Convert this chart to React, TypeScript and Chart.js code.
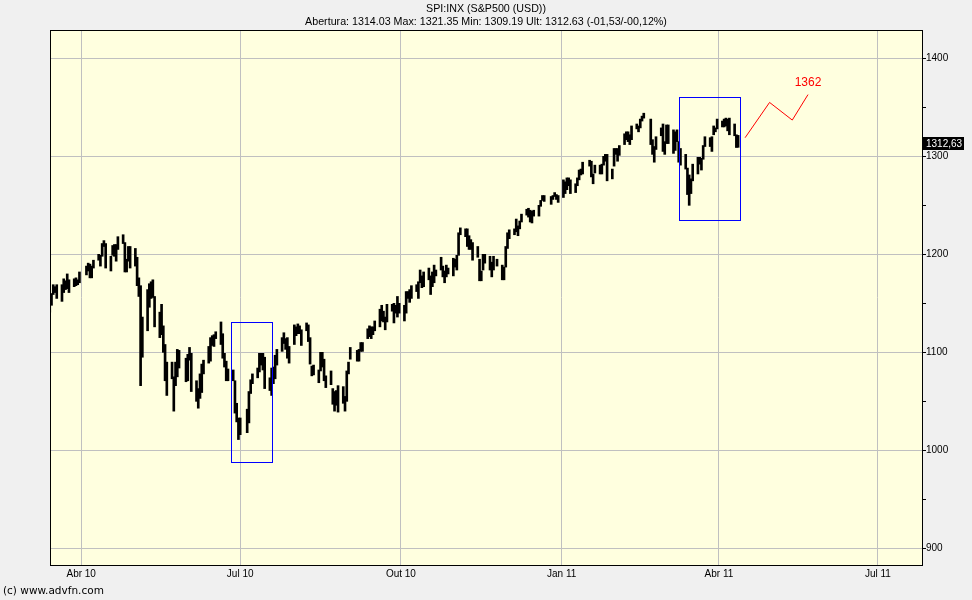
import React, { useEffect, useRef } from "react";
import { Chart, registerables } from "chart.js";

Chart.register(...registerables);

// ---- Daily OHLC, S&P 500 (SPI:INX) ----
const dates: string[] = [
  // Mar 2010
  "2010-03-15","2010-03-16","2010-03-17","2010-03-18","2010-03-19","2010-03-22","2010-03-23","2010-03-24","2010-03-25","2010-03-26","2010-03-29","2010-03-30","2010-03-31",
  // Apr 2010
  "2010-04-01","2010-04-05","2010-04-06","2010-04-07","2010-04-08","2010-04-09","2010-04-12","2010-04-13","2010-04-14","2010-04-15","2010-04-16","2010-04-19","2010-04-20","2010-04-21","2010-04-22","2010-04-23","2010-04-26","2010-04-27","2010-04-28","2010-04-29","2010-04-30",
  // May 2010
  "2010-05-03","2010-05-04","2010-05-05","2010-05-06","2010-05-07","2010-05-10","2010-05-11","2010-05-12","2010-05-13","2010-05-14","2010-05-17","2010-05-18","2010-05-19","2010-05-20","2010-05-21","2010-05-24","2010-05-25","2010-05-26","2010-05-27","2010-05-28",
  // Jun 2010
  "2010-06-01","2010-06-02","2010-06-03","2010-06-04","2010-06-07","2010-06-08","2010-06-09","2010-06-10","2010-06-11","2010-06-14","2010-06-15","2010-06-16","2010-06-17","2010-06-18","2010-06-21","2010-06-22","2010-06-23","2010-06-24","2010-06-25","2010-06-28","2010-06-29","2010-06-30",
  // Jul 2010
  "2010-07-01","2010-07-02","2010-07-06","2010-07-07","2010-07-08","2010-07-09","2010-07-12","2010-07-13","2010-07-14","2010-07-15","2010-07-16","2010-07-19","2010-07-20","2010-07-21","2010-07-22","2010-07-23","2010-07-26","2010-07-27","2010-07-28","2010-07-29","2010-07-30",
  // Aug 2010
  "2010-08-02","2010-08-03","2010-08-04","2010-08-05","2010-08-06","2010-08-09","2010-08-10","2010-08-11","2010-08-12","2010-08-13","2010-08-16","2010-08-17","2010-08-18","2010-08-19","2010-08-20","2010-08-23","2010-08-24","2010-08-25","2010-08-26","2010-08-27","2010-08-30","2010-08-31",
  // Sep 2010
  "2010-09-01","2010-09-02","2010-09-03","2010-09-07","2010-09-08","2010-09-09","2010-09-10","2010-09-13","2010-09-14","2010-09-15","2010-09-16","2010-09-17","2010-09-20","2010-09-21","2010-09-22","2010-09-23","2010-09-24","2010-09-27","2010-09-28","2010-09-29","2010-09-30",
  // Oct 2010
  "2010-10-01","2010-10-04","2010-10-05","2010-10-06","2010-10-07","2010-10-08","2010-10-11","2010-10-12","2010-10-13","2010-10-14","2010-10-15","2010-10-18","2010-10-19","2010-10-20","2010-10-21","2010-10-22","2010-10-25","2010-10-26","2010-10-27","2010-10-28","2010-10-29",
  // Nov 2010
  "2010-11-01","2010-11-02","2010-11-03","2010-11-04","2010-11-05","2010-11-08","2010-11-09","2010-11-10","2010-11-11","2010-11-12","2010-11-15","2010-11-16","2010-11-17","2010-11-18","2010-11-19","2010-11-22","2010-11-23","2010-11-24","2010-11-26","2010-11-29","2010-11-30",
  // Dec 2010
  "2010-12-01","2010-12-02","2010-12-03","2010-12-06","2010-12-07","2010-12-08","2010-12-09","2010-12-10","2010-12-13","2010-12-14","2010-12-15","2010-12-16","2010-12-17","2010-12-20","2010-12-21","2010-12-22","2010-12-23","2010-12-27","2010-12-28","2010-12-29","2010-12-30","2010-12-31",
  // Jan 2011
  "2011-01-03","2011-01-04","2011-01-05","2011-01-06","2011-01-07","2011-01-10","2011-01-11","2011-01-12","2011-01-13","2011-01-14","2011-01-18","2011-01-19","2011-01-20","2011-01-21","2011-01-24","2011-01-25","2011-01-26","2011-01-27","2011-01-28","2011-01-31",
  // Feb 2011
  "2011-02-01","2011-02-02","2011-02-03","2011-02-04","2011-02-07","2011-02-08","2011-02-09","2011-02-10","2011-02-11","2011-02-14","2011-02-15","2011-02-16","2011-02-17","2011-02-18","2011-02-22","2011-02-23","2011-02-24","2011-02-25","2011-02-28",
  // Mar 2011
  "2011-03-01","2011-03-02","2011-03-03","2011-03-04","2011-03-07","2011-03-08","2011-03-09","2011-03-10","2011-03-11","2011-03-14","2011-03-15","2011-03-16","2011-03-17","2011-03-18","2011-03-21","2011-03-22","2011-03-23","2011-03-24","2011-03-25","2011-03-28","2011-03-29","2011-03-30","2011-03-31",
  // Apr 2011
  "2011-04-01","2011-04-04","2011-04-05","2011-04-06","2011-04-07","2011-04-08","2011-04-11","2011-04-12","2011-04-13",
];

const opens: number[] = [
  1148,1150,1160,1166,1166,1158,1166,1172,1168,1167,1168,1173,1172,
  1171,1179,1187,1189,1181,1187,1194,1196,1198,1210,1210,1192,1199,1207,1202,1207,1218,1209,1185,1193,1207,
  1188,1197,1170,1164,1127,1122,1156,1156,1170,1157,1136,1139,1119,1108,1067,1084,1068,1075,1075,1102,
  1087,1074,1098,1099,1066,1051,1063,1059,1083,1095,1091,1114,1116,1117,1122,1113,1096,1091,1074,1077,1071,1040,
  1031,1028,1029,1029,1062,1070,1078,1080,1094,1094,1094,1066,1065,1084,1073,1093,1103,1118,1112,1108,1099,
  1108,1125,1121,1124,1123,1122,1122,1115,1082,1082,1077,1081,1093,1093,1075,1073,1063,1048,1056,1049,1063,1046,
  1050,1080,1093,1102,1092,1101,1104,1114,1121,1119,1123,1127,1126,1143,1139,1131,1131,1149,1143,1147,1146,
  1143,1144,1140,1160,1162,1157,1165,1164,1172,1177,1180,1177,1178,1167,1180,1180,1185,1184,1183,1184,1183,
  1186,1187,1194,1199,1221,1224,1224,1214,1212,1210,1200,1195,1178,1184,1196,1198,1192,1184,1194,1189,1183,
  1187,1206,1220,1224,1227,1225,1230,1233,1242,1241,1241,1236,1243,1246,1249,1255,1257,1255,1259,1259,1260,1257,
  1258,1273,1268,1276,1275,1270,1272,1276,1285,1283,1293,1295,1280,1283,1283,1289,1292,1297,1300,1277,
  1290,1307,1303,1307,1312,1319,1323,1318,1318,1329,1331,1329,1336,1341,1338,1315,1307,1307,1321,
  1329,1305,1313,1331,1322,1311,1320,1315,1293,1301,1288,1279,1262,1277,1282,1298,1292,1300,1311,1315,1309,1322,1327,
  1329,1333,1332,1336,1334,1336,1330,1321,1314.03,
];

const highs: number[] = [
  1151,1160,1169,1167,1169,1169,1175,1173,1180,1174,1175,1176,1174,
  1182,1188,1191,1190,1188,1194,1200,1199,1211,1214,1211,1198,1209,1210,1210,1218,1220,1212,1195,1208,1208,
  1206,1197,1176,1168,1136,1164,1170,1172,1174,1157,1141,1149,1127,1108,1090,1090,1075,1090,1103,1102,
  1094,1098,1105,1099,1071,1063,1078,1088,1092,1106,1115,1117,1118,1121,1131,1119,1099,1091,1083,1082,1071,1048,
  1033,1033,1042,1060,1072,1078,1084,1099,1099,1099,1095,1074,1084,1085,1097,1103,1115,1120,1114,1115,1106,
  1128,1126,1129,1127,1123,1130,1128,1115,1086,1087,1082,1100,1100,1093,1076,1081,1063,1060,1061,1066,1065,1055,
  1081,1090,1105,1102,1103,1110,1110,1124,1127,1126,1126,1132,1144,1148,1142,1136,1149,1149,1150,1148,1157,
  1150,1148,1162,1162,1164,1168,1169,1172,1184,1178,1182,1186,1178,1182,1189,1184,1197,1188,1183,1189,1186,
  1196,1195,1199,1222,1227,1226,1226,1219,1215,1212,1208,1195,1183,1200,1200,1198,1192,1198,1195,1189,1187,
  1208,1222,1225,1226,1236,1229,1234,1241,1246,1247,1245,1244,1245,1250,1255,1260,1260,1259,1260,1263,1261,1260,
  1276,1274,1278,1278,1276,1272,1278,1286,1287,1294,1296,1295,1282,1291,1291,1292,1300,1302,1302,1287,
  1308,1308,1308,1311,1323,1325,1325,1322,1331,1333,1331,1338,1341,1344,1338,1317,1310,1320,1329,
  1333,1315,1332,1332,1327,1325,1327,1315,1308,1302,1288,1281,1277,1292,1299,1299,1298,1311,1320,1319,1320,1331,1329,
  1338,1336,1338,1339,1338,1339,1333,1322,1321.35,
];

const lows: number[] = [
  1141,1148,1159,1161,1155,1152,1161,1164,1165,1161,1167,1168,1169,
  1171,1179,1183,1176,1176,1186,1194,1188,1198,1208,1186,1183,1199,1198,1193,1205,1211,1182,1182,1193,1186,
  1188,1168,1157,1066,1095,1122,1146,1155,1156,1126,1115,1118,1100,1071,1056,1073,1040,1066,1075,1084,
  1070,1071,1092,1060,1050,1043,1053,1059,1078,1089,1091,1107,1106,1114,1108,1094,1085,1071,1071,1071,1038,1029,
  1011,1016,1018,1028,1058,1068,1074,1080,1087,1082,1063,1061,1056,1068,1073,1087,1101,1109,1103,1094,1089,
  1108,1117,1119,1119,1107,1122,1111,1088,1076,1077,1069,1081,1085,1071,1064,1067,1047,1040,1046,1039,1048,1040,
  1050,1078,1093,1091,1091,1101,1101,1114,1116,1114,1118,1122,1126,1132,1131,1123,1131,1142,1130,1140,1136,
  1140,1132,1140,1155,1151,1155,1162,1155,1171,1166,1167,1174,1159,1167,1171,1178,1184,1177,1171,1177,1180,
  1178,1187,1184,1199,1220,1218,1208,1205,1205,1194,1197,1173,1173,1184,1191,1184,1177,1184,1188,1174,1174,
  1187,1206,1216,1220,1223,1219,1226,1233,1240,1238,1233,1232,1239,1239,1249,1255,1254,1251,1256,1259,1256,1253,
  1258,1262,1266,1270,1262,1263,1270,1276,1281,1282,1290,1279,1272,1283,1282,1282,1291,1295,1275,1277,
  1290,1302,1295,1301,1312,1317,1315,1312,1317,1328,1325,1329,1336,1339,1312,1302,1294,1307,1321,
  1305,1302,1313,1313,1303,1306,1315,1294,1291,1287,1261,1250,1262,1275,1282,1292,1286,1297,1310,1310,1305,1322,1325,
  1328,1330,1330,1331,1326,1322,1321,1309,1309.19,
];

const closes: number[] = [
  1150,1160,1166,1166,1160,1166,1174,1168,1166,1167,1173,1173,1169,
  1178,1187,1189,1183,1186,1194,1197,1197,1211,1212,1192,1198,1207,1206,1209,1217,1212,1184,1191,1207,1187,
  1202,1174,1166,1128,1111,1160,1156,1172,1157,1136,1137,1121,1115,1072,1088,1074,1074,1068,1103,1089,
  1071,1098,1103,1065,1050,1062,1056,1087,1092,1090,1115,1115,1116,1118,1113,1095,1092,1074,1077,1075,1041,1031,
  1027,1023,1028,1060,1070,1078,1079,1095,1095,1096,1065,1071,1084,1070,1094,1103,1115,1114,1106,1102,1102,
  1126,1121,1127,1126,1122,1128,1121,1090,1084,1079,1079,1093,1094,1076,1072,1067,1052,1055,1047,1065,1049,1049,
  1080,1090,1105,1092,1099,1104,1110,1122,1121,1125,1125,1126,1143,1140,1134,1125,1149,1142,1148,1145,1141,
  1146,1137,1161,1160,1158,1165,1165,1170,1178,1174,1176,1185,1166,1178,1180,1183,1186,1186,1182,1184,1183,
  1184,1194,1198,1221,1226,1223,1213,1219,1213,1199,1198,1178,1179,1197,1200,1198,1181,1198,1189,1188,1181,
  1206,1222,1225,1223,1224,1228,1233,1240,1241,1242,1235,1243,1244,1247,1255,1259,1257,1258,1259,1260,1258,1258,
  1272,1270,1277,1274,1272,1270,1275,1286,1284,1293,1295,1282,1280,1283,1291,1291,1297,1300,1276,1286,
  1308,1304,1307,1311,1319,1325,1321,1322,1329,1332,1328,1336,1340,1343,1315,1307,1306,1320,1327,
  1306,1308,1331,1321,1310,1322,1320,1295,1304,1296,1282,1257,1274,1279,1298,1294,1298,1310,1314,1310,1319,1328,1326,
  1332,1333,1333,1336,1333,1328,1324,1314,1312.63,
];

// Axis ticks
const xTickDates = ["2010-04-01", "2010-07-01", "2010-10-01", "2011-01-01", "2011-04-01", "2011-07-01"];
const xTickLabels = ["Abr 10", "Jul 10", "Out 10", "Jan 11", "Abr 11", "Jul 11"];
const yTicks = [900, 950, 1000, 1050, 1100, 1150, 1200, 1250, 1300, 1350, 1400];

// Red projection drawn on the chart
const projDates = ["2011-04-16", "2011-04-30", "2011-05-13", "2011-05-22"];
const projValues = [1319, 1355, 1337, 1363];
const projLabel = "1362";
const projLabelValue = 1375;

// Blue highlight boxes
const boxStart = ["2010-06-26", "2011-03-09"];
const boxEnd = ["2010-07-19", "2011-04-13"];
const boxHigh = [1131, 1361];
const boxLow = [988, 1235];

const titleText = "SPI:INX (S&P500 (USD))";
const infoText = "Abertura: 1314.03 Max: 1321.35 Min: 1309.19 Ult: 1312.63 (-01,53/-00,12%)";
const lastLabel = "1312,63";
const footerText = "(c) www.advfn.com";

const DAY_MS = 86400000;
const dayNum = (s: string) => {
  const [y, m, d] = s.split("-").map(Number);
  return Date.UTC(y, m - 1, d) / DAY_MS;
};
// bars are stamped at the start of the session (previous midnight)
const BAR_SHIFT = -1;

const FONT = "'Liberation Sans', Arial, sans-serif";

export default function App() {
  const ref = useRef<HTMLCanvasElement | null>(null);

  useEffect(() => {
    if (!ref.current) return;
    const xTickVals = xTickDates.map(dayNum);
    const barData = dates.map((d, i) => ({ x: dayNum(d) + BAR_SHIFT, y: [lows[i], highs[i]] }));
    const projData = projDates.map((d, i) => ({ x: dayNum(d), y: projValues[i] }));

    const decor = {
      id: "decor",
      beforeDraw(chart: any) {
        const { ctx, chartArea: a, width, height } = chart;
        ctx.save();
        ctx.fillStyle = "#f0f0f0";
        ctx.fillRect(0, 0, width, height);
        ctx.fillStyle = "#ffffdf";
        ctx.fillRect(a.left, a.top, a.right - a.left, a.bottom - a.top);
        ctx.restore();
      },
      afterDatasetsDraw(chart: any) {
        const { ctx } = chart;
        const xs = chart.scales.x;
        const ys = chart.scales.y;
        ctx.save();
        // blue boxes
        ctx.strokeStyle = "#0000ff";
        ctx.lineWidth = 1;
        for (let i = 0; i < boxStart.length; i++) {
          const x0 = Math.round(xs.getPixelForValue(dayNum(boxStart[i]))) + 0.5;
          const x1 = Math.round(xs.getPixelForValue(dayNum(boxEnd[i]))) + 0.5;
          const y0 = Math.round(ys.getPixelForValue(boxHigh[i])) + 0.5;
          const y1 = Math.round(ys.getPixelForValue(boxLow[i])) + 0.5;
          ctx.strokeRect(x0, y0, x1 - x0, y1 - y0);
        }
        // projection label
        ctx.fillStyle = "#ff0000";
        ctx.font = `12px ${FONT}`;
        ctx.textAlign = "center";
        ctx.textBaseline = "middle";
        ctx.fillText(
          projLabel,
          xs.getPixelForValue(dayNum(projDates[projDates.length - 1])),
          ys.getPixelForValue(projLabelValue)
        );
        ctx.restore();
      },
      afterDraw(chart: any) {
        const { ctx, chartArea: a, width } = chart;
        const ys = chart.scales.y;
        ctx.save();
        ctx.strokeStyle = "#000";
        ctx.lineWidth = 1;
        ctx.strokeRect(a.left + 0.5, a.top + 0.5, a.right - a.left, a.bottom - a.top);
        // titles
        ctx.fillStyle = "#000";
        ctx.textAlign = "center";
        ctx.textBaseline = "middle";
        ctx.font = `10.7px ${FONT}`;
        ctx.fillText(titleText, width / 2, 9);
        ctx.fillText(infoText, width / 2, 22);
        // footer
        ctx.textAlign = "left";
        ctx.font = `10.5px 'DejaVu Sans', sans-serif`;
        ctx.fillText(footerText, 3, 591);
        // last price tag
        const yLast = Math.round(ys.getPixelForValue(closes[closes.length - 1]));
        ctx.fillStyle = "#000";
        ctx.fillRect(a.right + 1, yLast - 7, 41, 13);
        ctx.fillStyle = "#fff";
        ctx.font = `10px ${FONT}`;
        ctx.fillText(lastLabel, a.right + 4, yLast);
        ctx.restore();
      },
    };

    const chart = new Chart(ref.current, {
      type: "bar",
      data: {
        datasets: [
          {
            type: "bar",
            data: barData as any,
            backgroundColor: "#000000",
            borderWidth: 0,
            barThickness: 2,
          },
          {
            type: "line",
            data: projData as any,
            borderColor: "#ff0000",
            borderWidth: 1,
            pointRadius: 0,
            tension: 0,
            fill: false,
          },
        ],
      },
      options: {
        animation: false,
        responsive: false,
        events: [],
        layout: { padding: { left: 50, top: 30, right: 0, bottom: 0 } },
        plugins: { legend: { display: false }, tooltip: { enabled: false }, title: { display: false } },
        scales: {
          x: {
            type: "linear",
            offset: false,
            min: dayNum("2010-04-01") - 17.86,
            max: dayNum("2011-07-01") + 25.25,
            grid: { offset: false, color: "#c0c0c0", drawTicks: false, tickLength: 0 },
            border: { color: "#000", width: 1 },
            afterBuildTicks: (scale: any) => {
              scale.ticks = xTickVals.map((v) => ({ value: v }));
            },
            afterFit: (scale: any) => {
              scale.height = 35;
            },
            ticks: {
              autoSkip: false,
              maxRotation: 0,
              minRotation: 0,
              padding: 3,
              color: "#000",
              font: { family: FONT, size: 10 },
              callback: (_v: any, i: number) => xTickLabels[i],
            },
          },
          y: {
            type: "linear",
            position: "right",
            min: 883,
            max: 1428.9,
            beginAtZero: false,
            grid: {
              color: (c: any) => (c.tick && c.tick.value % 100 === 0 ? "#c0c0c0" : "rgba(0,0,0,0)"),
              tickColor: "#000",
              tickLength: 4,
            },
            border: { color: "#000", width: 1 },
            afterBuildTicks: (scale: any) => {
              scale.ticks = yTicks.map((v) => ({ value: v }));
            },
            afterFit: (scale: any) => {
              scale.width = 50;
            },
            ticks: {
              padding: 0,
              color: "#000",
              font: { family: FONT, size: 10 },
              callback: (v: any) => (Number(v) % 100 === 0 ? String(v) : ""),
            },
          },
        },
      },
      plugins: [decor],
    });
    return () => chart.destroy();
  }, []);

  return (
    <canvas
      ref={ref}
      width={972}
      height={600}
      style={{ position: "absolute", left: 0, top: 0, width: 972, height: 600 }}
    />
  );
}
